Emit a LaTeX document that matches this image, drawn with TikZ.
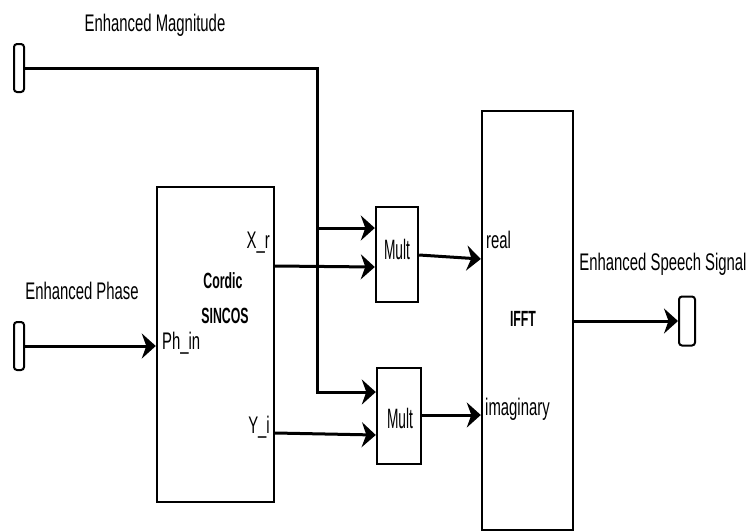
\documentclass[tikz,border=0pt]{standalone}
\usepackage{fontspec}
\setmainfont{Liberation Sans}[FakeStretch=0.62]
\newfontfamily\multfont{Liberation Sans}[FakeStretch=0.49]
\newfontfamily\blkfont{Liberation Sans}[FakeStretch=0.56]
\usepackage{tikz}
\usetikzlibrary{arrows.meta,positioning}
\newcommand{\lbl}{\fontsize{24}{28}\selectfont}
\newcommand{\mlbl}{\multfont\fontsize{28}{32}\selectfont}
\newcommand{\blbl}{\blkfont\fontsize{22}{26}\selectfont\bfseries}

\begin{document}
\begin{tikzpicture}[x=1pt,y=-1pt,>={Stealth[length=14pt,width=25pt,inset=4.5pt]},
  blk/.style={draw,line width=2.4pt,inner sep=0pt},
  port/.style={draw,line width=2pt,rounded corners=3pt,minimum width=10pt,minimum height=48pt,inner sep=0pt},
  wire/.style={line width=3pt}]
  \useasboundingbox (0,0) rectangle (752,531);
  \node[port] (magin) at (19,68) {};
  \node[port] (phin) at (19,346) {};
  \node[port,minimum width=16pt,minimum height=49pt] (sigout) at (687,321) {};
  \node[blk,minimum width=117pt,minimum height=315pt] (cordic) at (215.5,344.5) {};
  \node[blk,minimum width=42pt,minimum height=95pt] (mult1) at (397,254.5) {};
  \node[blk,minimum width=44pt,minimum height=96pt] (mult2) at (399,416) {};
  \node[blk,minimum width=91pt,minimum height=419pt] (ifft) at (527.5,320.5) {};
  \node (m1txt) at (397,249) {\mlbl Mult};
  \node (m2txt) at (400,418) {\mlbl Mult};
  \node (tmag) at (155,25) {\lbl Enhanced Magnitude};
  \node (tphase) at (82,291) {\lbl Enhanced Phase};
  \node (tsig) at (663,264) {\lbl Enhanced Speech Signal};
  \node (tcordic) at (223,281) {\blbl Cordic};
  \node (tsincos) at (225,316) {\blbl SINCOS};
  \node (tifft) at (523,319) {\blbl IFFT};
  \node[anchor=east,inner sep=0pt] (xr) at (270,243) {\lbl X\_r};
  \node[anchor=east,inner sep=0pt] (yi) at (270,427) {\lbl Y\_i};
  \node[anchor=west,inner sep=0pt] (phport) at (162,343) {\lbl Ph\_in};
  \node[anchor=west,inner sep=0pt] (re) at (486,240) {\lbl real};
  \node[anchor=west,inner sep=0pt] (im) at (485,409) {\lbl imaginary};
  \coordinate (drop) at (317,392);
  \coordinate (tap) at (317,228);
  \draw[wire,->] (magin.east) -| (drop) -- (drop -| mult2.west);
  \draw[wire,->] (tap) -- (tap -| mult1.west);
  \draw[wire,->] (phin.east) -- (phin.east -| cordic.west);
  \draw[wire,->] (cordic.east |- 0,266) -- (mult1.west |- 0,267);
  \draw[wire,->] (cordic.east |- 0,433) -- (mult2.west |- 0,435);
  \draw[wire,->] (mult1.east |- 0,255) -- (ifft.west |- 0,259);
  \draw[wire,->] (mult2.east |- 0,415) -- (ifft.west |- 0,415);
  \draw[wire,->] (ifft.east |- sigout) -- (sigout.west);
\end{tikzpicture}
\end{document}
